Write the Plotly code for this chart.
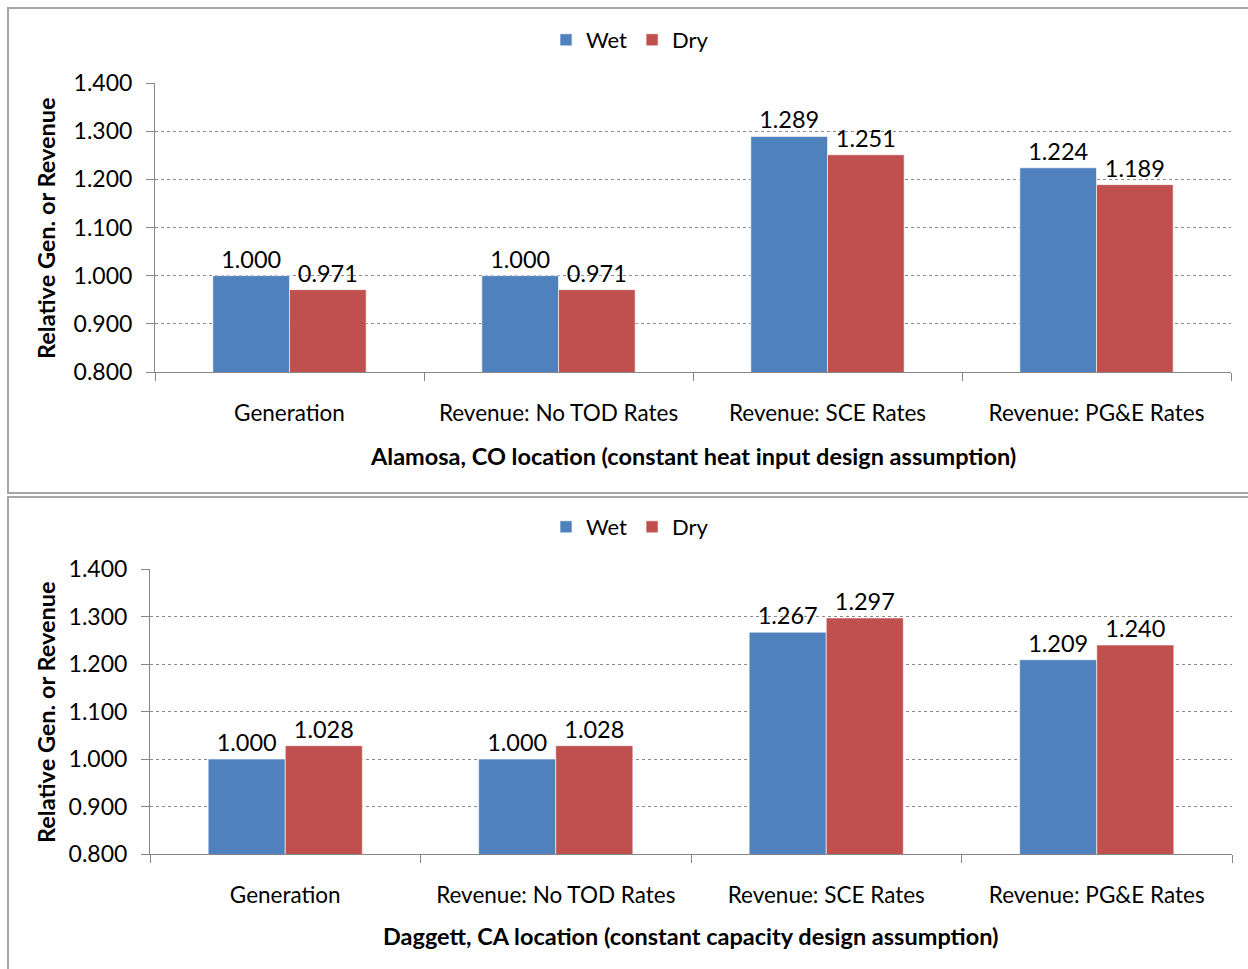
import plotly.graph_objects as go

categories = ["Generation", "Revenue: No TOD Rates", "Revenue: SCE Rates", "Revenue: PG&E Rates"]
alamosa_wet = [1.000, 1.000, 1.289, 1.224]
alamosa_dry = [0.971, 0.971, 1.251, 1.189]
daggett_wet = [1.000, 1.000, 1.267, 1.209]
daggett_dry = [1.028, 1.028, 1.297, 1.240]

y_ticks = [0.8, 0.9, 1.0, 1.1, 1.2, 1.3, 1.4]
y_title = "Relative Gen. or Revenue"
top_title = "Alamosa, CO location (constant heat input design assumption)"
bottom_title = "Daggett, CA location (constant capacity design assumption)"

BLUE = "#4F81BD"
RED = "#C0504D"
FONT = "Lato"
W, H = 1248, 969

fig = go.Figure()


def add_pair(wet, dry, xa, ya, legend):
    for name, vals, color in (("Wet", wet, BLUE), ("Dry", dry, RED)):
        fig.add_trace(go.Bar(
            x=categories, y=vals, name=name, xaxis=xa, yaxis=ya,
            marker=dict(color=color, line=dict(color="rgba(255,255,255,0.6)", width=1)),
            text=[f"{v:.3f}" for v in vals], textposition="outside",
            textfont=dict(family=FONT, size=23.5, color="#000"),
            cliponaxis=False, legend=legend,
        ))


add_pair(alamosa_wet, alamosa_dry, "x", "y", "legend")
add_pair(daggett_wet, daggett_dry, "x2", "y2", "legend2")


def px_x(p):
    return p / W


def px_y(p):
    return 1 - p / H


axis_common = dict(
    showline=True, linecolor="#868686", linewidth=1,
    ticks="outside", tickcolor="#868686", ticklen=8,
    automargin=False,
)

xaxis_common = dict(axis_common, type="category", tickson="boundaries",
                    showgrid=False, ticklabelstandoff=21,
                    tickfont=dict(family=FONT, size=22.5, color="#000"))
yaxis_common = dict(axis_common, range=[0.8, 1.4], tickvals=y_ticks,
                    tickformat=".3f", showgrid=True, gridcolor="#8c8c8c",
                    griddash="dot", gridwidth=1, zeroline=False,
                    ticklabelstandoff=9,
                    tickfont=dict(family=FONT, size=23, color="#000"))

fig.update_layout(
    width=W, height=H,
    margin=dict(l=0, r=0, t=0, b=0, autoexpand=False),
    paper_bgcolor="white", plot_bgcolor="white",
    barmode="group", bargap=0.43, bargroupgap=0,
    font=dict(family=FONT, size=20, color="#000"),
    xaxis=dict(xaxis_common, domain=[px_x(155), px_x(1231)], anchor="y"),
    yaxis=dict(yaxis_common, domain=[px_y(372), px_y(83)], anchor="x"),
    xaxis2=dict(xaxis_common, domain=[px_x(150), px_x(1232)], anchor="y2"),
    yaxis2=dict(yaxis_common, domain=[px_y(854), px_y(569)], anchor="x2"),
    legend=dict(orientation="h", x=px_x(630), y=px_y(40), xanchor="center",
                yanchor="middle", font=dict(family=FONT, size=22),
                bgcolor="rgba(0,0,0,0)", itemwidth=30),
    legend2=dict(orientation="h", x=px_x(630), y=px_y(527), xanchor="center",
                 yanchor="middle", font=dict(family=FONT, size=22),
                 bgcolor="rgba(0,0,0,0)", itemwidth=30),
    showlegend=True,
)

# Panel borders
for y0, y1 in ((8, 493), (497, 980)):
    fig.add_shape(type="rect", xref="paper", yref="paper",
                  x0=px_x(8), x1=px_x(1260), y0=px_y(y1), y1=px_y(y0),
                  line=dict(color="#a6a6a6", width=2), layer="below")

# Axis titles
for yc, text in ((228, y_title), (712, y_title)):
    fig.add_annotation(xref="paper", yref="paper", x=px_x(46), y=px_y(yc),
                       text=f"<b>{text}</b>", textangle=-90, showarrow=False,
                       font=dict(family=FONT, size=23.5), xanchor="center",
                       yanchor="middle")
for xc, yc, text in ((693, 456, top_title), (691, 936, bottom_title)):
    fig.add_annotation(xref="paper", yref="paper", x=px_x(xc), y=px_y(yc),
                       text=f"<b>{text}</b>", showarrow=False,
                       font=dict(family=FONT, size=23.5), xanchor="center",
                       yanchor="middle")

fig.write_html("out.html")
